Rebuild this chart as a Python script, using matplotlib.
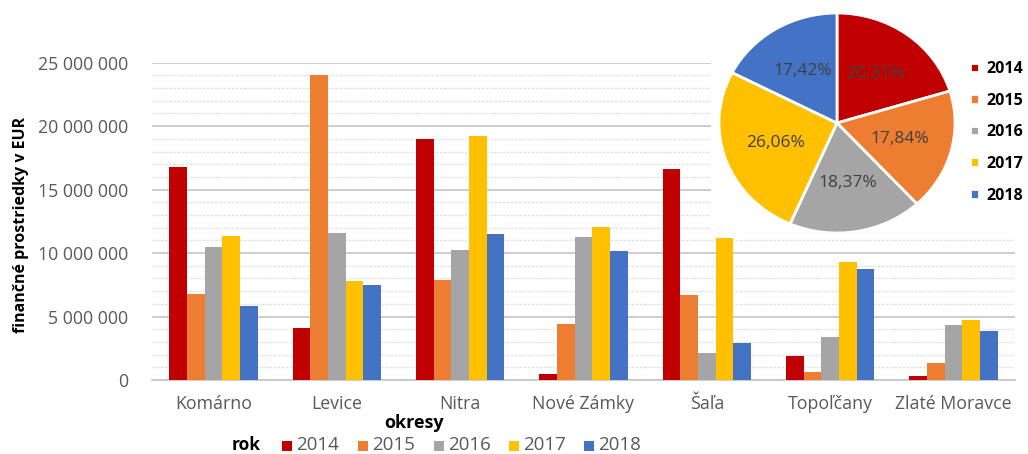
import matplotlib.pyplot as plt
from matplotlib.patches import Rectangle
from matplotlib.ticker import MultipleLocator, FuncFormatter
import numpy as np

plt.rcParams['font.family'] = ['Open Sans', 'DejaVu Sans']

# ── Data ──────────────────────────────────────────────────────────────
districts = ['Komárno', 'Levice', 'Nitra', 'Nové Zámky', 'Šaľa', 'Topoľčany', 'Zlaté Moravce']
years = ['2014', '2015', '2016', '2017', '2018']
v2014 = [16_800_000, 4_100_000, 18_950_000, 450_000, 16_600_000, 1_900_000, 280_000]
v2015 = [6_800_000, 24_000_000, 7_850_000, 4_420_000, 6_700_000, 600_000, 1_320_000]
v2016 = [10_450_000, 11_600_000, 10_230_000, 11_280_000, 2_130_000, 3_390_000, 4_340_000]
v2017 = [11_350_000, 7_780_000, 19_200_000, 12_030_000, 11_450_000, 9_330_000, 4_750_000]
v2018 = [5_800_000, 7_500_000, 11_530_000, 10_140_000, 2_890_000, 8_750_000, 3_860_000]
pie_shares = [20.31, 17.84, 18.37, 26.06, 17.42]

colors = ['#C00000', '#ED7D31', '#A5A5A5', '#FFC000', '#4472C4']
W, H = 1028, 454

fig = plt.figure(figsize=(W / 100, H / 100), dpi=100)

# ── Bar chart ─────────────────────────────────────────────────────────
ax = fig.add_axes([152 / W, 1 - 380 / H, 863 / W, 317.3 / H])
x = np.arange(len(districts))
bw = 0.1435
series = [v2014, v2015, v2016, v2017, v2018]
for i, (vals, c) in enumerate(zip(series, colors)):
    ax.bar(x + (i - 2) * bw, vals, width=bw, color=c, zorder=3)

ax.set_xlim(-0.5, len(districts) - 0.5)
ax.set_ylim(0, 25_000_000)
ax.yaxis.set_major_locator(MultipleLocator(5_000_000))
ax.yaxis.set_minor_locator(MultipleLocator(1_000_000))
ax.yaxis.set_major_formatter(FuncFormatter(lambda v, p: f'{int(v):,}'.replace(',', ' ')))
ax.grid(axis='y', which='minor', color='#e2e2e2', linewidth=1.0, linestyle=(0, (2, 1)), zorder=0)
ax.grid(axis='y', which='major', color='#c9c9c9', linewidth=1.3, zorder=1)
ax.set_xticks(x)
ax.set_xticklabels(districts)
ax.tick_params(axis='x', length=0, pad=11, labelsize=12.8, labelcolor='#595959')
ax.tick_params(axis='y', which='both', length=0, pad=17, labelsize=12.8, labelcolor='#595959')
for s in ['top', 'right', 'left']:
    ax.spines[s].set_visible(False)
ax.spines['bottom'].set_color('#c9c9c9')
ax.spines['bottom'].set_linewidth(1.3)

fig.text(21 / W, 1 - 225 / H, 'finančné prostriedky v EUR', rotation=90,
         ha='center', va='center', fontsize=11.5, fontweight='bold', color='black')
fig.text(414 / W, 1 - 423 / H, 'okresy', ha='center', va='center',
         fontsize=13, fontweight='bold', color='black')

# bottom legend
fig.text(246 / W, 1 - 445 / H, 'rok', ha='center', va='center',
         fontsize=12.5, fontweight='bold', color='black')
leg_x = [282, 358, 434, 509, 584]
for lx, yr, c in zip(leg_x, years, colors):
    fig.patches.append(Rectangle((lx / W, 1 - 451 / H), 10 / W, 10 / H,
                                 transform=fig.transFigure, facecolor=c, edgecolor='none'))
    fig.text((lx + 14) / W, 1 - 445 / H, yr, ha='left', va='center',
             fontsize=13.5, color='#595959')

# ── Pie chart ─────────────────────────────────────────────────────────
ax2 = fig.add_axes([711 / W, 1 - 238 / H, 317 / W, 238 / H])
ax2.set_zorder(5)
wedges, texts, autotexts = ax2.pie(
    pie_shares, colors=colors, startangle=90, counterclock=False,
    autopct=lambda p: f'{p:.2f}%'.replace('.', ','), pctdistance=0.55,
    wedgeprops=dict(edgecolor='white', linewidth=2),
    textprops=dict(fontsize=12.5, color='#404040'))
ax2.set_aspect('auto')
cx, cy, rx, ry = 837, 123, 118, 110
ax2.set_xlim(-(cx - 711) / rx, (1028 - cx) / rx)
ax2.set_ylim(-(238 - cy) / ry, cy / ry)
ax2.set_frame_on(True)
ax2.set_facecolor('white')
for s in ax2.spines.values():
    s.set_visible(False)
ax2.set_xticks([])
ax2.set_yticks([])

ax2.legend(wedges, years, loc='upper left', bbox_to_anchor=((970 - 711) / 317, 1 - 61 / 238),
           frameon=False, handlelength=0.55, handleheight=0.55, handletextpad=0.45,
           labelspacing=0.98, borderaxespad=0, borderpad=0,
           prop=dict(size=11.5, weight='bold'))

fig.savefig('out.png', dpi=100)
